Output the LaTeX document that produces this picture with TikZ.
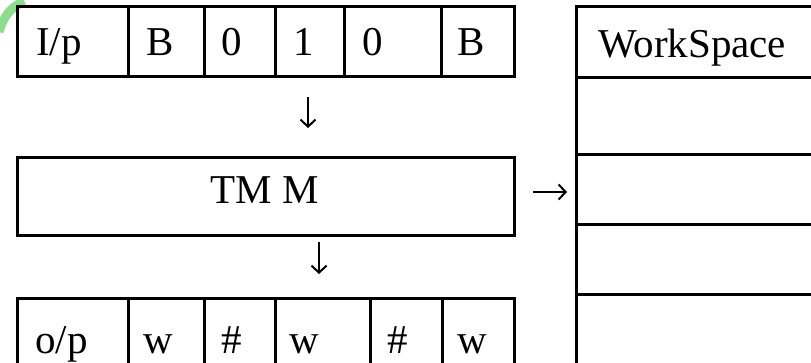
\documentclass[tikz,border=0pt]{standalone}
\usepackage{fontspec}
\setmainfont{Liberation Serif}
\usetikzlibrary{arrows.meta}
\definecolor{markgreen}{RGB}{140,222,140}
\begin{document}
\begin{tikzpicture}[x=1pt,y=-1pt,
  cell/.style={draw, line width=2.6pt, inner sep=0pt, anchor=north west},
  txt/.style={inner sep=0pt, anchor=base west, font=\fontsize{41}{49}\selectfont},
  arr/.style={line width=2pt, -{Straight Barb[length=7pt,width=15pt,line width=2pt]}}]
\useasboundingbox (0,0) rectangle (811,362);
\fill[white] (0,0) rectangle (811,362);

% green mark in the corner
\draw[markgreen, line width=9pt] (-1,32) .. controls (3,17) and (11,7) .. (24,1);

% input tape
\node[cell, minimum width=111pt, minimum height=70pt] (in0) at (16,5) {};
\node[cell, minimum width=76pt,  minimum height=70pt] (in1) at (127,5) {};
\node[cell, minimum width=71pt,  minimum height=70pt] (in2) at (203,5) {};
\node[cell, minimum width=69pt,  minimum height=70pt] (in3) at (274,5) {};
\node[cell, minimum width=97pt,  minimum height=70pt] (in4) at (343,5) {};
\node[cell, minimum width=73pt,  minimum height=70pt] (in5) at (440,5) {};
\node[txt] (tin0) at (36,55) {I/p};
\node[txt] (tin1) at (146,55) {B};
\node[txt] (tin2) at (221,55) {0};
\node[txt] (tin3) at (293,55) {1};
\node[txt] (tin4) at (362,55) {0};
\node[txt] (tin5) at (457,55) {B};

% machine
\node[cell, minimum width=497pt, minimum height=78pt] (tm) at (16,156) {};
\node[txt, anchor=base] (ttm) at (265,203) {TM M};

% output tape
\node[cell, minimum width=111pt, minimum height=70pt] (out0) at (16,297) {};
\node[cell, minimum width=76pt,  minimum height=70pt] (out1) at (127,297) {};
\node[cell, minimum width=71pt,  minimum height=70pt] (out2) at (203,297) {};
\node[cell, minimum width=95pt,  minimum height=70pt] (out3) at (274,297) {};
\node[cell, minimum width=72pt,  minimum height=70pt] (out4) at (369,297) {};
\node[cell, minimum width=72pt,  minimum height=70pt] (out5) at (441,297) {};
\node[txt] (tout0) at (35,353) {o/p};
\node[txt] (tout1) at (143,353) {w};
\node[txt] (tout2) at (221,353) {\#};
\node[txt] (tout3) at (289,353) {w};
\node[txt] (tout4) at (387,353) {\#};
\node[txt] (tout5) at (457,353) {w};

% work space column
\node[cell, minimum width=260pt, minimum height=71pt] (ws0) at (575,5) {};
\node[cell, minimum width=260pt, minimum height=77pt] (ws1) at (575,76) {};
\node[cell, minimum width=260pt, minimum height=70pt] (ws2) at (575,153) {};
\node[cell, minimum width=260pt, minimum height=70pt] (ws3) at (575,223) {};
\node[cell, minimum width=260pt, minimum height=80pt] (ws4) at (575,293) {};
\node[txt] (tws) at (598,57) {WorkSpace};

% flow arrows
\coordinate (d1s) at (308,97);
\coordinate (d1e) at (308,128);
\coordinate (d2s) at (319,242);
\coordinate (d2e) at (319,274);
\coordinate (rs) at (533,192);
\coordinate (re) at (567,192);
\draw[arr] (d1s) -- (d1e);
\draw[arr] (d2s) -- (d2e);
\draw[arr] (rs) -- (re);
\end{tikzpicture}
\end{document}
